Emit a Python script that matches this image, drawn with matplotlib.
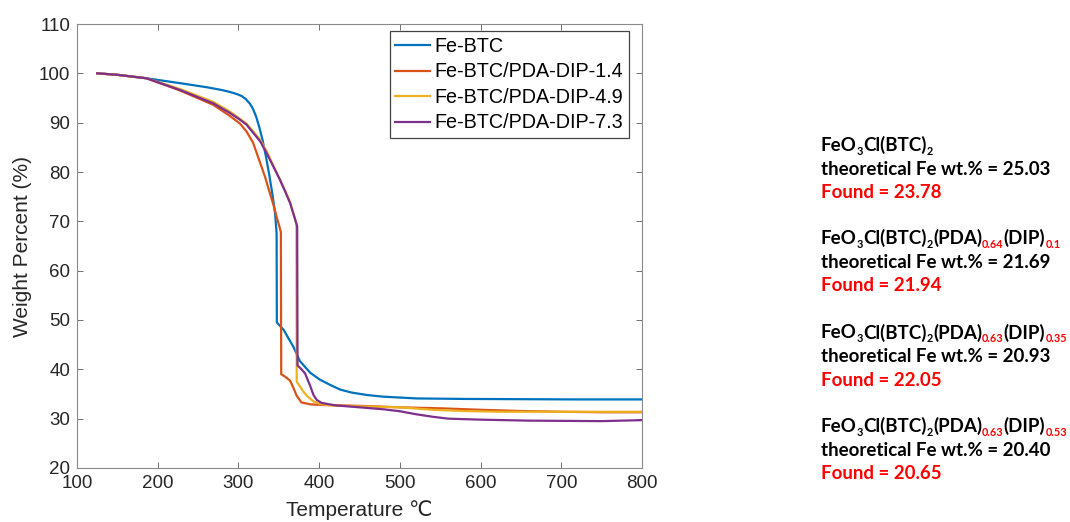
import matplotlib
matplotlib.use("Agg")
import matplotlib.pyplot as plt

# ---- TGA curves: temperature (deg C) and remaining weight (%) ----
series_labels = ["Fe-BTC", "Fe-BTC/PDA-DIP-1.4", "Fe-BTC/PDA-DIP-4.9", "Fe-BTC/PDA-DIP-7.3"]
series_colors = ["#0072BD", "#D95319", "#EDB120", "#7E2F8E"]

t_fe_btc = [125, 150, 186, 228, 260, 280, 290, 298, 304, 309, 314, 318, 322, 326, 330, 334, 338, 342, 345.5,
            347.3, 347.6, 351, 356, 362, 368, 376, 389, 401, 413, 426, 440, 459, 480, 521, 580, 650, 720, 800]
w_fe_btc = [100, 99.7, 99.0, 98.0, 97.2, 96.6, 96.2, 95.8, 95.4, 94.8, 93.9, 92.8, 91.2, 89.0, 86.4, 83.2, 79.6, 75.6, 71.5,
            67.5, 49.5, 48.9, 48.0, 46.3, 44.6, 41.7, 39.3, 37.9, 36.9, 35.9, 35.3, 34.8, 34.45, 34.1, 34.0, 33.95, 33.9, 33.9]

t_dip_14 = [125, 150, 186, 228, 269, 290, 302, 310, 318, 327, 333, 339, 344, 348, 351, 352.6,
            353.0, 358, 364, 368, 372, 378, 389, 401, 450, 500, 550, 600, 650, 700, 750, 800]
w_dip_14 = [100, 99.7, 99.0, 96.5, 93.6, 91.3, 89.8, 88.2, 86.0, 81.8, 79.0, 75.7, 73.0, 70.5, 68.8, 67.8,
            39.0, 38.5, 37.7, 36.3, 34.7, 33.3, 32.9, 32.8, 32.6, 32.3, 32.1, 31.8, 31.55, 31.4, 31.3, 31.3]

t_dip_49 = [125, 150, 186, 228, 269, 290, 310, 318, 327, 335, 343, 351, 358, 364, 370, 371.8,
            372.2, 376, 380, 385, 393, 401, 413, 450, 500, 541, 580, 624, 700, 800]
w_dip_49 = [100, 99.7, 99.0, 96.8, 94.2, 92.2, 89.8, 88.3, 86.5, 84.2, 81.4, 78.6, 76.2, 73.9, 70.6, 69.5,
            37.5, 36.6, 35.6, 34.6, 33.5, 33.0, 32.7, 32.5, 32.3, 31.8, 31.55, 31.4, 31.4, 31.4]

t_dip_73 = [125, 150, 186, 228, 269, 290, 302, 310, 318, 327, 335, 343, 351.5, 358, 364, 370, 372.8,
            373.2, 377, 382.5, 386, 389, 393, 397, 403, 420, 450, 480, 500, 520, 540, 560, 600, 660, 750, 800]
w_dip_73 = [100, 99.7, 99.0, 96.6, 93.9, 91.9, 90.6, 89.6, 88.0, 86.2, 83.8, 81.2, 78.4, 76.0, 73.7, 70.5, 69.0,
            40.8, 40.2, 39.2, 37.8, 36.6, 34.8, 33.8, 33.2, 32.7, 32.3, 31.9, 31.5, 30.9, 30.4, 30.0, 29.8, 29.6, 29.5, 29.7]

temps = [t_fe_btc, t_dip_14, t_dip_49, t_dip_73]
weights = [w_fe_btc, w_dip_14, w_dip_49, w_dip_73]

# ---- composition notes ----
pda_index = [None, "0.64", "0.63", "0.63"]
dip_index = [None, "0.1", "0.35", "0.53"]
theoretical_fe = ["25.03", "21.69", "20.93", "20.40"]
found_fe = ["23.78", "21.94", "22.05", "20.65"]

W, H = 1070, 522
fig = plt.figure(figsize=(W / 100, H / 100), dpi=100)
ax = fig.add_axes([77 / W, 1 - 468 / H, (642 - 77) / W, (468 - 24) / H])

axis_font = ["Liberation Sans", "DejaVu Sans"]
for t, w, lab, col in zip(temps, weights, series_labels, series_colors):
    ax.plot(t, w, color=col, lw=1.6, label=lab, solid_joinstyle="round")

ax.set_xlim(100, 800)
ax.set_ylim(20, 110)
ax.set_xticks(range(100, 801, 100))
ax.set_yticks(range(20, 111, 10))
ax.tick_params(direction="in", top=True, right=True, length=4.5, width=0.7,
               color="#707070", labelcolor="#262626", labelsize=13.5)
ax.tick_params(axis="x", pad=5)
ax.tick_params(axis="y", pad=5)
for lbl in ax.get_xticklabels() + ax.get_yticklabels():
    lbl.set_family(axis_font)
for sp in ax.spines.values():
    sp.set_color("#8a8a8a")
    sp.set_linewidth(0.8)

ax.set_xlabel("Temperature \u2103", fontsize=15, color="#262626", family=axis_font, labelpad=6)
ax.set_ylabel("Weight Percent (%)", fontsize=15, color="#262626", family=axis_font, labelpad=5)

leg = ax.legend(loc="upper right", bbox_to_anchor=(629 / W, 1 - 31 / H),
                bbox_transform=fig.transFigure, prop={"family": axis_font, "size": 14.2},
                handlelength=1.75, handletextpad=0.22, borderpad=0.3, labelspacing=0.33,
                borderaxespad=0, fancybox=False, framealpha=1)
leg.get_frame().set_edgecolor("#444444")
leg.get_frame().set_linewidth(0.9)

# ---- rich text block on the right ----
fig.canvas.draw()
renderer = fig.canvas.get_renderer()
note_size = 13.5
note_font = "Lato"


def draw_runs(x_px, y_px, runs):
    x = x_px
    for text, kind, color in runs:
        if kind == "sub":
            fs = note_size * 0.58
            y = y_px + note_size * 0.2 * 100 / 72
        else:
            fs = note_size
            y = y_px
        t = fig.text(x / W, 1 - y / H, text, fontsize=fs, color=color, family=note_font,
                     weight="bold", ha="left", va="baseline")
        x += t.get_window_extent(renderer).width


x_left = 821
group_tops = [151, 244, 338.5, 432]
line_gap = 23.6
for i in range(4):
    runs = [("FeO", "n", "black"), ("3", "sub", "black"), ("Cl(BTC)", "n", "black"), ("2", "sub", "black")]
    if pda_index[i] is not None:
        runs += [("(PDA)", "n", "black"), (pda_index[i], "sub", "red"),
                 ("(DIP)", "n", "black"), (dip_index[i], "sub", "red")]
    y0 = group_tops[i]
    draw_runs(x_left, y0, runs)
    draw_runs(x_left, y0 + line_gap, [("theoretical Fe wt.% = " + theoretical_fe[i], "n", "black")])
    draw_runs(x_left, y0 + 2 * line_gap, [("Found = " + found_fe[i], "n", "red")])

fig.savefig("out.png", dpi=100)
